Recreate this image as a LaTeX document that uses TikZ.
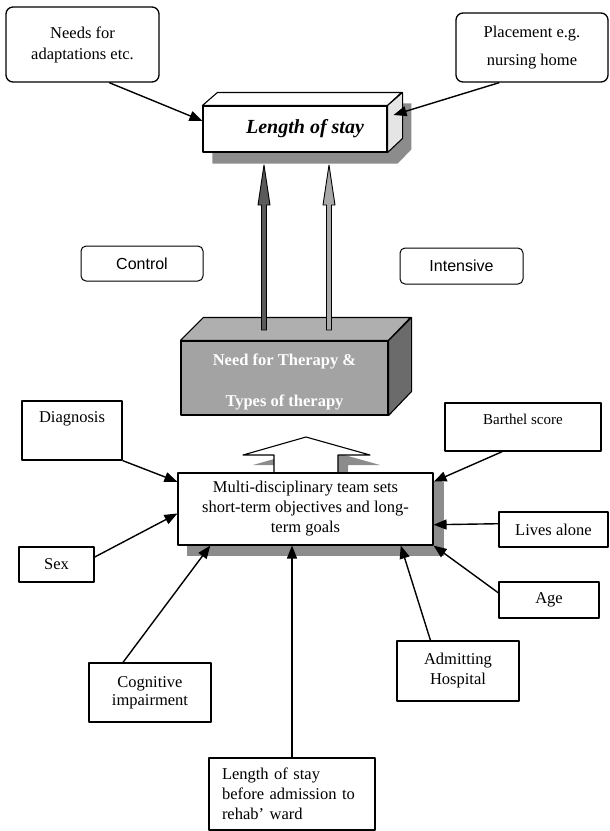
\documentclass[tikz,border=0pt]{standalone}
\usepackage{fontspec}
\setmainfont{Liberation Serif}
\newfontfamily\arialfont{Liberation Sans}
\usetikzlibrary{positioning, calc, arrows.meta, backgrounds}

\definecolor{shadowgray}{HTML}{8C8C8C}
\definecolor{boxgray}{HTML}{A3A3A3}
\definecolor{topgray}{HTML}{AFAFAF}
\definecolor{sidegray}{HTML}{6B6B6B}
\definecolor{darkshaft}{HTML}{5A5A5A}
\definecolor{lightshaft}{HTML}{A8A8A8}

\begin{document}
\begin{tikzpicture}[x=1pt, y=-1pt, line join=round]
        \tikzstyle{txt}=[font=\fontsize{16.5}{20}\selectfont];
        \tikzstyle{rbox}=[draw, line width=1.3pt, rounded corners=7pt, fill=white, align=center, inner sep=0pt, txt];
        \tikzstyle{sbox}=[draw, line width=1.1pt, fill=white, align=center, inner sep=0pt, txt];
        \tikzstyle{link}=[-{Triangle[length=13pt, width=10pt]}, line width=1.4pt];

        \useasboundingbox (0,0) rectangle (610,831);

        \node[rbox, minimum width=153pt, minimum height=75pt, font=\fontsize{16.5}{21}\selectfont] (1) at (82.5, 44.5) {Needs for\\adaptations etc.};
        \node[rbox, minimum width=152pt, minimum height=69pt, font=\fontsize{16.5}{28}\selectfont] (2) at (532, 47.5) {Placement e.g.\\nursing home};

        \node[sbox, minimum width=184pt, minimum height=46pt, font=\fontsize{20}{24}\selectfont\bfseries\itshape] (0) at (295, 129) {\hspace*{20pt}Length of stay};
        \draw[fill=white, line width=1.1pt] (0.north west) -- ++(15,-13) -- ++(184,0) -- (0.north east) -- cycle;
        \draw[fill=gray!20, line width=1.1pt] (0.north east) -- ++(15,-13) -- ++(0,46) -- (0.south east) -- cycle;

        \node[rbox, rounded corners=5pt, line width=1pt, minimum width=122pt, minimum height=35pt, font=\arialfont\fontsize{16}{19}\selectfont] (3) at (142, 263.5) {Control};
        \node[rbox, rounded corners=5pt, line width=1pt, minimum width=123pt, minimum height=36pt, font=\arialfont\fontsize{16}{19}\selectfont] (4) at (461.5, 266) {Intensive};

        \node[sbox, fill=boxgray, text=white, minimum width=207pt, minimum height=74pt, text height=62pt, text depth=4.5pt, font=\fontsize{16.5}{20}\selectfont\bfseries] (5) at (284.5, 378) {Need for Therapy \&\\[21pt]Types of therapy};
        \draw[fill=topgray, line width=1.1pt] (5.north west) -- ++(23,-23) -- ++(207,0) -- (5.north east) -- cycle;
        \draw[fill=sidegray, line width=1.1pt] (5.north east) -- ++(23,-23) -- ++(0,74) -- (5.south east) -- cycle;

        \foreach \x/\c in {264/darkshaft, 329/lightshaft}
            \draw[fill=\c, line width=0.9pt] (\x-2.5,330) -- (\x-2.5,205) -- (\x-6,205) -- (\x,165) -- (\x+6,205) -- (\x+2.5,205) -- (\x+2.5,330) -- cycle;

        \draw[fill=white, line width=1.1pt] (274,473) -- (274,455) -- (243,455) -- (306,437) -- (370,455) -- (338,455) -- (338,473);

        \node[sbox, minimum width=255pt, minimum height=72pt] (6) at (305.5, 509) {Multi-disciplinary team sets\\short-term objectives and long-\\term goals};

        \node[sbox, minimum width=100pt, minimum height=59pt, text height=12pt, text depth=28pt] (7) at (72, 430.5) {Diagnosis};
        \node[sbox, minimum width=75pt, minimum height=35pt] (8) at (56.5, 564.5) {Sex};
        \node[sbox, minimum width=122pt, minimum height=59pt, font=\fontsize{16.5}{18}\selectfont] (9) at (150, 692.5) {Cognitive\\impairment};
        \node[sbox, minimum height=72pt, text width=140pt, inner xsep=13pt, align=left] (10) at (292, 794) {Length of stay\\before admission to\\rehab' ward};
        \node[sbox, minimum width=122pt, minimum height=60pt] (11) at (458, 671) {Admitting\\Hospital};
        \node[sbox, minimum width=100pt, minimum height=36pt] (12) at (549, 600) {Age};
        \node[sbox, minimum width=109pt, minimum height=35pt] (13) at (553.5, 529.5) {Lives alone};
        \node[sbox, minimum width=156pt, minimum height=48pt, text height=11pt, text depth=17pt, font=\fontsize{15}{18}\selectfont] (14) at (523, 427) {Barthel score};

        \draw (1.-55) edge[link] (0.175);
        \draw (2.-133) edge[link] ($(0.east)+(6,-14)$);

        \draw (7.south east) edge[link] (6.168);
        \draw (8.11) edge[link] (6.182);
        \draw (9.132) edge[link] (6.-159);
        \draw (10.north) edge[link] (10.north |- 6.south);
        \draw (11.132) edge[link] (6.-21);
        \draw (12.172) edge[link] (6.south east);
        \draw (13.174) edge[link] (6.-7);
        \draw (14.-130) edge[link] (6.12);

        \begin{scope}[on background layer]
            \fill[shadowgray] ([shift={(10,11)}]0.south west) -- ([shift={(10,11)}]0.north west) -- ++(15,-13) -- ++(184,0) -- ++(0,46) -- ([shift={(10,11)}]0.south east) -- cycle;
            \fill[shadowgray] ([shift={(10,10)}]6.south west) rectangle ([shift={(10,10)}]6.north east);
            \fill[shadowgray, shift={(10,10)}] (274,473) -- (274,455) -- (243,455) -- (306,437) -- (370,455) -- (338,455) -- (338,473) -- cycle;
        \end{scope}
\end{tikzpicture}
\end{document}
